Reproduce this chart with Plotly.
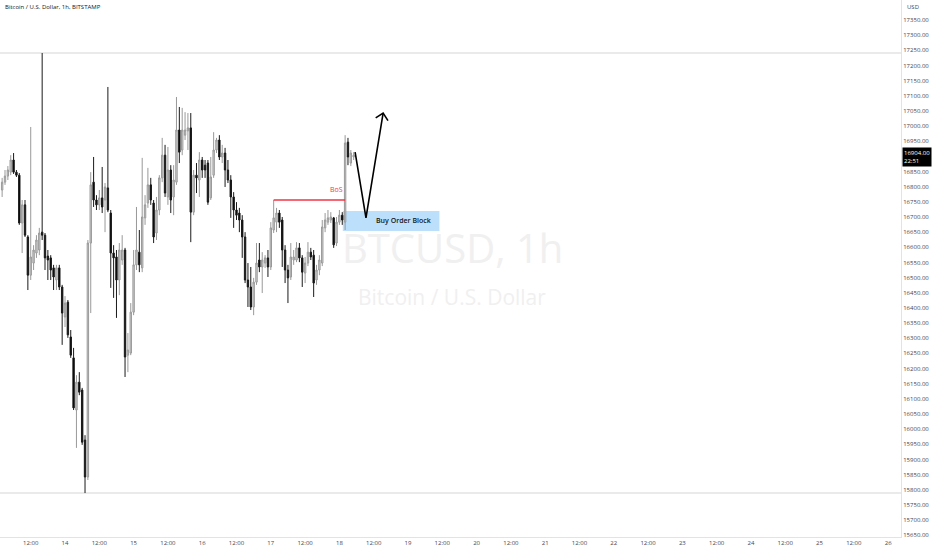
import pandas as pd
import plotly.graph_objects as go

# --- BTCUSD 1h candles (Bitstamp) ---
open_ = [16789, 16815, 16835, 16848, 16888, 16848, 16838, 16680, 16740, 16634,
         16508, 16548, 16581, 16591, 16650, 16640, 16571, 16565, 16532, 16492,
         16532, 16469, 16370, 16419, 16304, 16235, 16063, 16155, 16129, 15964,
         15842, 16614, 16815, 16756, 16740, 16763, 16756, 16796, 16713, 16581,
         16568, 16492, 16558, 16591, 16244, 16251, 16386, 16542, 16584, 16532,
         16697, 16746, 16806, 16746, 16647, 16723, 16829, 16904, 16766, 16855,
         16766, 16815, 16987, 16921, 16970, 16984, 16994, 16716, 16838, 16822,
         16888, 16871, 16878, 16763, 16838, 16921, 16954, 16898, 16911, 16855,
         16822, 16766, 16723, 16713, 16690, 16634, 16492, 16469, 16403, 16485,
         16558, 16535, 16548, 16565, 16535, 16657, 16683, 16713, 16690, 16591,
         16525, 16502, 16558, 16558, 16598, 16565, 16515, 16548, 16584, 16574,
         16492, 16525, 16548, 16664, 16683, 16690, 16697, 16614, 16683, 16706,
         16683, 16947, 16878, 16898]
high = [16829, 16855, 16868, 16904, 16911, 16855, 16845, 16756, 16756, 16640,
        16997, 16607, 16640, 16664, 17241, 16647, 16591, 16574, 16542, 16542,
        16542, 16476, 16439, 16426, 16327, 16268, 16178, 16188, 16136, 15980,
        16624, 16848, 16898, 16772, 16789, 16865, 16812, 17129, 16723, 16607,
        16591, 16614, 16640, 16598, 16317, 16416, 16591, 16733, 16657, 16895,
        16772, 16862, 16829, 16756, 16766, 16838, 16961, 16938, 16931, 16871,
        16871, 17096, 17063, 17060, 17046, 17043, 17043, 16855, 16878, 16914,
        16898, 16888, 16888, 16898, 16980, 16961, 16970, 16938, 16928, 16888,
        16838, 16782, 16749, 16730, 16706, 16650, 16548, 16535, 16499, 16614,
        16614, 16584, 16574, 16591, 16683, 16756, 16730, 16723, 16700, 16607,
        16542, 16614, 16591, 16617, 16614, 16574, 16568, 16617, 16598, 16591,
        16542, 16574, 16690, 16713, 16723, 16716, 16700, 16700, 16723, 16716,
        16970, 16961, 16921, 16914]
low = [16766, 16806, 16822, 16838, 16842, 16832, 16674, 16581, 16634, 16459,
       16492, 16525, 16565, 16574, 16624, 16525, 16492, 16492, 16459, 16459,
       16459, 16278, 16337, 16301, 16235, 16063, 15938, 16112, 15948, 15789,
       15832, 16383, 16733, 16723, 16723, 16713, 16650, 16716, 16466, 16433,
       16367, 16442, 16542, 16172, 16188, 16244, 16376, 16525, 16518, 16518,
       16674, 16730, 16740, 16614, 16624, 16706, 16815, 16766, 16740, 16713,
       16706, 16806, 16878, 16904, 16954, 16921, 16617, 16706, 16779, 16766,
       16829, 16829, 16740, 16756, 16829, 16911, 16888, 16878, 16799, 16812,
       16697, 16664, 16690, 16650, 16565, 16482, 16403, 16393, 16376, 16476,
       16518, 16449, 16532, 16502, 16525, 16647, 16650, 16664, 16535, 16482,
       16416, 16492, 16542, 16551, 16551, 16469, 16482, 16538, 16558, 16436,
       16476, 16508, 16538, 16650, 16674, 16680, 16598, 16604, 16674, 16674,
       16657, 16871, 16868, 16888]
close = [16815, 16835, 16855, 16888, 16848, 16838, 16680, 16740, 16640, 16508,
         16568, 16591, 16624, 16647, 16640, 16565, 16558, 16525, 16502, 16532,
         16469, 16383, 16416, 16311, 16244, 16070, 16155, 16122, 15957, 15842,
         16614, 16806, 16756, 16740, 16763, 16733, 16799, 16723, 16581, 16565,
         16492, 16591, 16591, 16238, 16261, 16386, 16542, 16591, 16542, 16700,
         16740, 16806, 16756, 16634, 16723, 16829, 16904, 16779, 16855, 16756,
         16822, 16987, 16914, 16987, 16987, 16994, 16716, 16838, 16829, 16888,
         16855, 16855, 16749, 16832, 16921, 16954, 16898, 16911, 16855, 16822,
         16766, 16723, 16706, 16690, 16634, 16492, 16469, 16403, 16485, 16548,
         16535, 16558, 16565, 16535, 16664, 16697, 16713, 16683, 16591, 16525,
         16499, 16568, 16568, 16598, 16565, 16518, 16548, 16584, 16568, 16482,
         16525, 16558, 16667, 16690, 16697, 16700, 16608, 16683, 16706, 16690,
         16944, 16898, 16911, 16904]
first_candle = "2022-12-13 02:00"
times = pd.date_range(first_candle, periods=len(close), freq="h")

# --- drawings ---
range_levels = [17241, 15789]
bos_x = ["2022-12-17 01:00", "2022-12-18 02:00"]
bos_y = 16756
block_x = ["2022-12-18 01:12", "2022-12-19 11:00"]
block_y = [16654, 16720]
path_x = ["2022-12-18 05:30", "2022-12-18 09:18", "2022-12-18 15:18"]
path_y = [16914, 16697, 17043]
head_x = ["2022-12-18 12:42", "2022-12-18 15:18", "2022-12-18 17:00"]
head_y = [17027, 17043, 17018]
last_price = 16904

# --- axes ---
price_ticks = [p for p in range(15650, 17351, 50) if p != 16900]
time_ticks = pd.date_range("2022-12-13 12:00", "2022-12-26 00:00", freq="12h")
time_labels = ["12:00" if t.hour == 12 else str(t.day) for t in time_ticks]

fig = go.Figure()

fig.add_trace(go.Candlestick(
    x=times, open=open_, high=high, low=low, close=close,
    increasing=dict(line=dict(color="#999999", width=1), fillcolor="#d4d4d4"),
    decreasing=dict(line=dict(color="#1a1a1a", width=1), fillcolor="#000000"),
    whiskerwidth=0, showlegend=False, hoverinfo="x+y"
))

# V-shaped projection with an open arrowhead
fig.add_trace(go.Scatter(x=path_x, y=path_y, mode="lines",
                         line=dict(color="#000000", width=1.6),
                         showlegend=False, hoverinfo="skip"))
fig.add_trace(go.Scatter(x=head_x, y=head_y, mode="lines",
                         line=dict(color="#000000", width=1.6),
                         showlegend=False, hoverinfo="skip"))

for lvl in range_levels:
    fig.add_shape(type="line", xref="paper", x0=0, x1=1, y0=lvl, y1=lvl,
                  line=dict(color="#e3e3e3", width=1.5), layer="below")

fig.add_shape(type="line", x0=bos_x[0], x1=bos_x[1], y0=bos_y, y1=bos_y,
              line=dict(color="#f23645", width=1.5))
fig.add_annotation(x="2022-12-17 23:00", y=bos_y, text="BoS", showarrow=False,
                   yanchor="bottom", yshift=4,
                   font=dict(family="Open Sans", size=7, color="#f23645"))

fig.add_shape(type="rect", x0=block_x[0], x1=block_x[1], y0=block_y[0], y1=block_y[1],
              fillcolor="rgba(33,150,243,0.30)", line=dict(width=0), layer="below")
fig.add_annotation(x="2022-12-18 22:36", y=sum(block_y) / 2, text="Buy Order Block",
                   showarrow=False,
                   font=dict(family="Open Sans", size=7, weight=600, color="#131722"))

# watermark
fig.add_annotation(xref="paper", yref="paper", x=0.502, y=0.54, text="BTCUSD, 1h",
                   showarrow=False,
                   font=dict(family="Open Sans", size=40, color="#f0f0f0"))
fig.add_annotation(xref="paper", yref="paper", x=0.502, y=0.447, text="Bitcoin / U.S. Dollar",
                   showarrow=False,
                   font=dict(family="Open Sans", size=21, color="#f0f0f0"))

# header and price-scale extras
fig.add_annotation(xref="paper", yref="paper", x=0.003, y=0.998, xanchor="left", yanchor="top",
                   text="Bitcoin / U.S. Dollar, 1h, BITSTAMP", showarrow=False,
                   font=dict(family="Open Sans", size=6, color="#131722"))
fig.add_annotation(xref="paper", yref="paper", x=1.0, y=0.998, xanchor="left", yanchor="top",
                   xshift=4, text="USD", showarrow=False,
                   font=dict(family="Open Sans", size=6, color="#434651"))
fig.add_annotation(xref="paper", x=1.0, y=last_price, xanchor="left", yanchor="middle",
                   xshift=1, yshift=-2, text=f"{last_price:.2f}<br>22:51",
                   showarrow=False, bgcolor="#000000", borderpad=1, align="left",
                   font=dict(family="Open Sans", size=6, color="#ffffff"))

fig.update_layout(
    width=932, height=550,
    margin=dict(l=0, r=31, t=0, b=13),
    paper_bgcolor="white", plot_bgcolor="white",
    font=dict(family="Open Sans", size=6, color="#434651"),
    hovermode="x",
    xaxis=dict(
        type="date", range=["2022-12-13 01:15", "2022-12-26 04:30"],
        rangeslider=dict(visible=False),
        tickvals=time_ticks, ticktext=time_labels, ticks="", ticklen=0,
        showgrid=False, zeroline=False, showline=True, linecolor="#e0e3eb",
        tickfont=dict(size=6, color="#434651")
    ),
    yaxis=dict(
        side="right", range=[15644, 17416],
        tickvals=price_ticks, ticktext=[f"{p:.2f}" for p in price_ticks],
        ticks="", showgrid=False, zeroline=False, showline=True, linecolor="#e0e3eb",
        tickfont=dict(size=6, color="#434651")
    ),
)

# the page's default body margin would shift the chart by 8px
fig.write_html("out.html", config={"displayModeBar": False},
               post_script="document.body.style.margin='0';")
